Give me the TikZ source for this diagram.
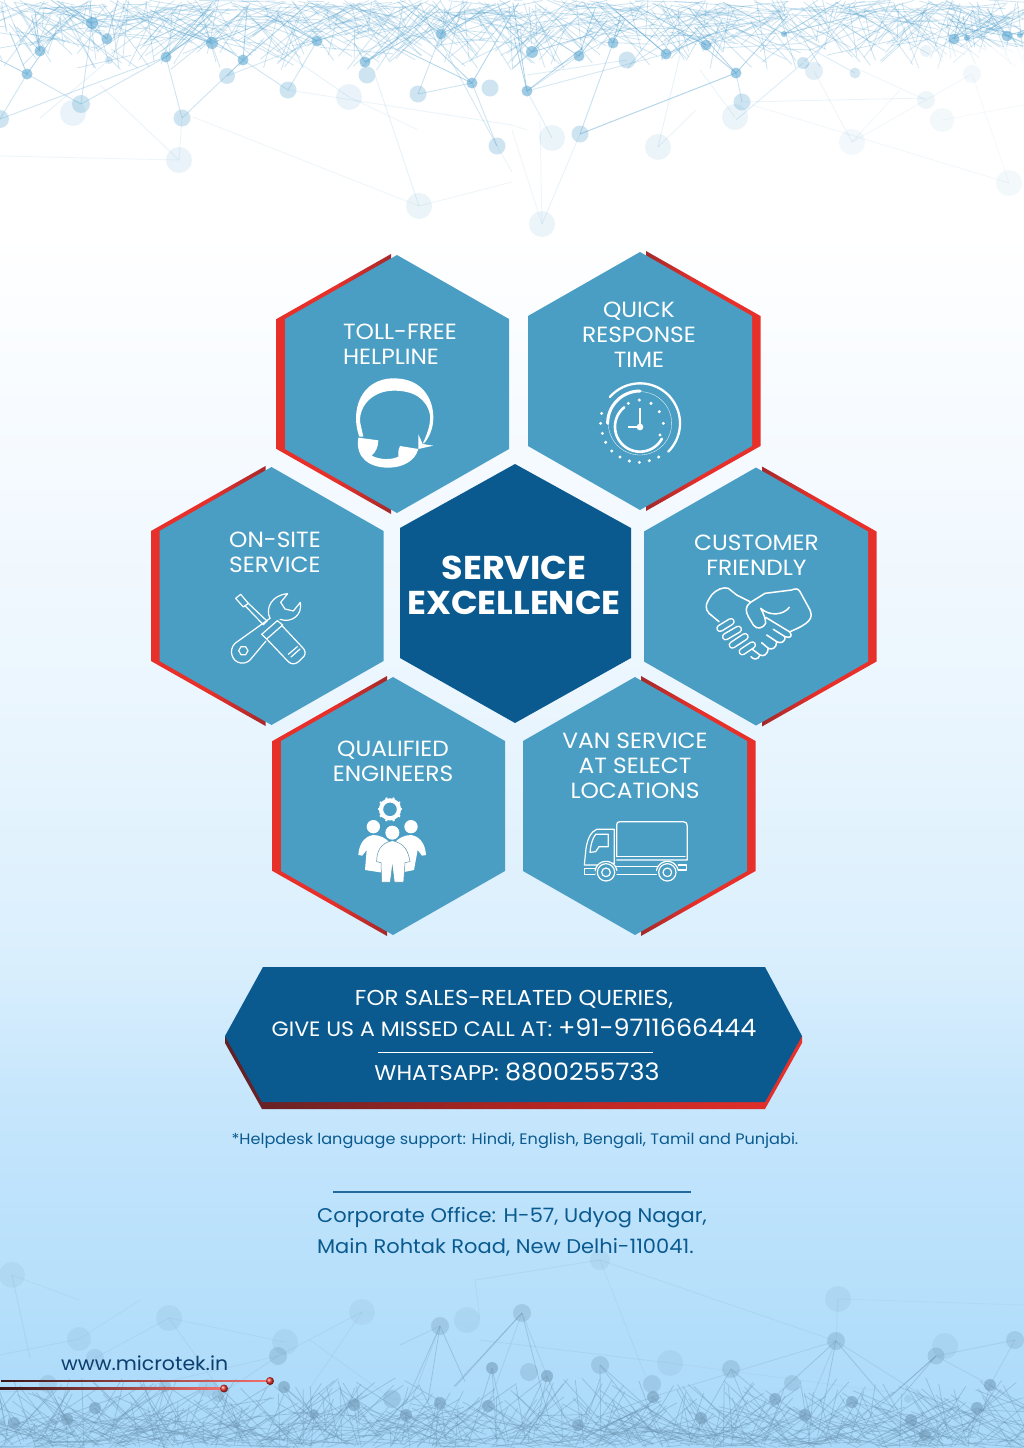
\documentclass[tikz,border=0pt]{standalone}
\usepackage{fontspec}
\setmainfont[FakeStretch=1.06]{Poppins}
\usetikzlibrary{fadings}

\definecolor{pageA}{HTML}{A9D9F9}
\definecolor{pageB}{HTML}{B5DFFB}
\definecolor{pageC}{HTML}{C6E6FC}
\definecolor{pageD}{HTML}{DAEFFD}
\definecolor{pageE}{HTML}{EBF6FE}
\definecolor{pageF}{HTML}{F7FBFF}
\definecolor{hexlight}{HTML}{4A9EC4}
\definecolor{hexdeep}{HTML}{0A5A8F}
\definecolor{hexred}{HTML}{E8302B}
\definecolor{hexmaroon}{HTML}{A52A2A}
\definecolor{bannerdark}{HTML}{5F2226}
\definecolor{nettop}{HTML}{5FA9D2}
\definecolor{netlow}{HTML}{6F98B5}
\definecolor{urlblue}{HTML}{0D3F6E}

\pgfdeclareverticalshading{pagefade}{100bp}{color(0bp)=(pageA); color(25bp)=(pageA); color(30bp)=(pageB); color(37bp)=(pageC); color(42bp)=(pageD); color(51bp)=(pageE); color(61bp)=(pageF); color(67bp)=(white); color(100bp)=(white)}
\pgfdeclarehorizontalshading{redfade}{100bp}{color(0bp)=(hexred); color(50bp)=(hexred); color(75bp)=(hexmaroon); color(100bp)=(hexmaroon)}

\begin{document}
\begin{tikzpicture}[x=1pt, y=-1pt]

\tikzstyle{hexlabel} = [text=white, align=center, font=\fontsize{22}{25}\selectfont]
\tikzstyle{iconline} = [draw=white, line width=1.2pt, line join=round, line cap=round]
\tikzstyle{banner} = [text=white, font=\fontsize{20.8}{24}\selectfont]
\tikzstyle{footer} = [text=hexdeep, font=\fontsize{19.8}{31}\selectfont, align=left]

\useasboundingbox (0,0) rectangle (1024,1448);
\shade [shading=pagefade] (0,0) rectangle (1024,1448);

% network at the top
\begin{scope}
\clip (0,0) rectangle (1024,1448);
\pgfmathsetseed{11}
\foreach \i in {1,...,720} {
  \pgfmathsetmacro\xa{rnd*1060-20}
  \pgfmathsetmacro\ya{rnd*rnd*60}
  \pgfmathsetmacro\xb{\xa+rand*80}
  \pgfmathsetmacro\yb{rnd*70}
  \draw [nettop, line width=.8pt, draw opacity=.3] (\xa,\ya) -- (\xb,\yb);
}
\foreach \x/\y/\r in {92/23/6,107/39/5.5,40/51/5.5,27/74/5.5,166/57/5.5,212/43/6,243/60/5.5,317/41/5.5,365/62/5.5,441/34/5.5,472/83/5.5,532/52/6,579/56/5.5,613/43/5.5,666/54/5.5,706/45/5.5,527/91/5.5,736/73/5.5,784/34/3,954/39/5.5,967/38/3,1007/36/5.5,1020/35/3} {
  \foreach \k in {1,2,3} {
    \pgfmathsetmacro\xb{\x+rand*75}
    \pgfmathsetmacro\yb{rnd*\y*.7}
    \draw [nettop, line width=.8pt, draw opacity=.5] (\x,\y) -- (\xb,\yb);
  }
}
\fill [white, opacity=.85, path fading=west] (880,47) rectangle (1024,200);
\foreach \xa/\ya/\xb/\yb/\op in {179/160/0/156/.1,179/160/182/118/.12,182/118/243/60/.3,182/118/166/57/.3,193/117/419/206/.1,419/206/375/75/.15,419/206/512/182/.1,179/160/100/85/.12,81/104/27/74/.3,81/104/166/57/.3,0/119/166/57/.3,0/119/27/74/.3,288/90/512/125/.12,497/146/440/40/.25,497/146/472/83/.3,497/146/512/172/.12,542/224/512/130/.1,542/224/580/134/.14,542/224/540/120/.1,580/134/736/73/.3,580/134/613/43/.35,552/138/527/91/.2,658/147/696/110/.12,658/147/680/55/.14,742/102/926/98/.12,742/102/736/73/.3,735/117/700/70/.12,852/142/814/71/.1,852/142/926/100/.08,852/142/900/90/.08,752/105/1009/183/.08,1009/183/972/74/.06,926/100/860/70/.1,926/100/970/75/.08,942/120/1024/105/.06,288/90/243/60/.3,288/90/317/41/.3,418/94/441/34/.3,418/94/472/83/.3,349/97/288/55/.15,349/97/418/130/.1,527/91/666/54/.25,527/91/579/56/.25,736/73/580/134/.25,527/130/512/125/.1,109/60/40/118/.15,81/104/92/23/.3,227/76/317/41/.25,227/76/243/60/.3,855/73/784/34/.2,627/60/527/75/.2,803/63/736/120/.2} {
  \draw [nettop, line width=.9pt, draw opacity=\op] (\xa,\ya) -- (\xb,\yb);
}
\foreach \x/\y/\r/\op in {92/23/6/.6,107/39/5.5/.6,40/51/5.5/.6,27/74/5.5/.6,166/57/5.5/.6,212/43/6/.6,243/60/5.5/.6,317/41/5.5/.6,365/62/5.5/.6,441/34/5.5/.6,472/83/5.5/.6,532/52/6/.6,579/56/5.5/.6,613/43/5.5/.6,666/54/5.5/.6,706/45/5.5/.6,527/91/5.5/.6,736/73/5.5/.6,784/34/3/.6,954/39/5.5/.6,967/38/3/.6,1007/36/5.5/.6,1020/35/3/.6,81/104/9/.3,182/118/8.5/.3,227/76/8/.3,288/90/8.5/.3,367/75/8.5/.3,418/94/8.5/.3,490/88/8.5/.3,497/146/8.5/.3,0/119/9/.3,109/60/4/.25,627/60/8.5/.3,580/134/8.5/.3,742/102/8.5/.3,803/63/6/.3,855/73/5.5/.25,73/113/13/.13,349/97/13/.13,179/160/13/.13,419/206/13/.12,552/138/13/.12,658/147/13/.12,735/117/13/.12,814/71/9/.18,852/142/13/.08,926/100/9/.1,942/120/12/.07,972/74/9/.08,1009/183/13/.07,542/224/13/.12,926/51/6/.12} {
  \fill [nettop, opacity=\op] (\x,\y) circle [radius=\r];
}

% network at the bottom
\foreach \i in {1,...,720} {
  \pgfmathsetmacro\xa{rnd*1060-20}
  \pgfmathsetmacro\ya{1448-rnd*rnd*45}
  \pgfmathsetmacro\xb{\xa+rand*80}
  \pgfmathsetmacro\yb{1448-rnd*70}
  \draw [netlow, line width=.8pt, draw opacity=.4] (\xa,\ya) -- (\xb,\yb);
}
\foreach \x/\y in {284/1387,95/1408,67/1419,14/1423,354/1405,314/1414,492/1368,547/1376,653/1397,775/1399,805/1415,852/1402,911/1420,990/1385,977/1408,925/1435,440/1403,406/1415,488/1406,578/1425,701/1418,165/1386,218/1396,936/1356,836/1341,600/1365,731/1369,440/1326,522/1313} {
  \foreach \k in {1,2,3} {
    \pgfmathsetmacro\xb{\x+rand*70}
    \pgfmathsetmacro\yb{1448-rnd*(1448-\y)*.6}
    \draw [netlow, line width=.8pt, draw opacity=.38] (\x,\y) -- (\xb,\yb);
  }
}
\foreach \xa/\ya/\xb/\yb/\op in {12/1275/30/1358/.14,12/1275/79/1300/.1,169/1318/95/1358/.12,169/1318/220/1390/.14,169/1318/285/1342/.1,79/1339/0/1355/.12,79/1339/140/1300/.1,362/1312/278/1356/.12,362/1312/310/1388/.12,278/1356/130/1390/.12,278/1356/218/1396/.16,440/1326/400/1345/.2,440/1326/406/1415/.2,522/1313/488/1406/.2,522/1313/547/1376/.2,600/1260/645/1375/.1,600/1260/836/1341/.12,838/1299/1024/1305/.08,838/1299/836/1341/.12,836/1341/945/1410/.2,836/1341/805/1415/.22,836/1341/652/1397/.2,936/1356/1015/1340/.2,936/1356/990/1385/.2,1015/1340/990/1385/.2,475/1280/480/1320/.1,475/1280/600/1260/.12,480/1340/670/1363/.12,670/1363/1024/1410/.08,392/1399/310/1340/.1,392/1399/450/1400/.1,0/1392/165/1386/.12} {
  \draw [netlow, line width=.9pt, draw opacity=\op] (\xa,\ya) -- (\xb,\yb);
}
\foreach \x/\y/\r/\op in {12/1275/13/.1,169/1318/13/.12,79/1339/12/.12,285/1342/13/.12,278/1356/9/.3,362/1312/13/.1,95/1358/9/.18,48/1384/9/.22,165/1386/6/.3,207/1388/9/.18,218/1396/6/.3,284/1387/6/.55,95/1408/6/.55,67/1419/6/.55,14/1423/6/.55,54/1422/3/.4,354/1405/6/.55,314/1414/5/.55,392/1399/9/.3,237/1425/3/.4,2/1423/3/.4,440/1326/9/.3,467/1320/13/.12,522/1313/9/.3,600/1260/10/.12,492/1368/6/.55,529/1372/9/.25,547/1376/6/.55,600/1365/9/.3,670/1363/13/.12,652/1384/9/.25,653/1397/6/.55,731/1369/9/.3,792/1383/8/.25,836/1341/9/.3,838/1299/13/.12,945/1346/13/.12,936/1356/8.5/.3,1015/1340/9/.25,775/1399/6/.55,805/1415/6/.55,852/1402/6/.55,908/1399/4/.2,911/1420/6/.55,990/1385/6/.55,977/1408/6/.55,925/1435/6/.45,440/1403/6/.55,406/1415/6/.55,488/1406/6/.55,578/1425/6/.55,701/1418/6/.55} {
  \fill [netlow, opacity=\op] (\x,\y) circle [radius=\r];
}
\end{scope}

% hexagons
\foreach \cx/\cy/\side in {397/384/-1,640/381/1,271.5/596/-1,756/596.5/1,393/806/-1,635/806/1} {
  \pgfmathsetmacro\redangle{90+90*\side}
  \shade [shading=redfade, shading angle=\redangle] ({\cx+6*\side},{\cy-130}) -- ({\cx+120.5*\side},{\cy-65}) -- ({\cx+120.5*\side},{\cy+65}) -- ({\cx+6*\side},{\cy+130}) -- cycle;
  \fill [hexlight] (\cx,{\cy-129}) -- ({\cx+112},{\cy-65}) -- ({\cx+112},{\cy+65}) -- (\cx,{\cy+129}) -- ({\cx-112},{\cy+65}) -- ({\cx-112},{\cy-65}) -- cycle;
}
\fill [hexdeep] (515,464) -- (631,528) -- (631,658) -- (515,723) -- (400,658) -- (400,528) -- cycle;

\node [text=white, align=center, font=\fontsize{33}{35}\selectfont\bfseries] (excellence) at (514,585) {SERVICE\\EXCELLENCE};

\node [hexlabel, align=left] (helpline) at (400,344) {TOLL-FREE\\HELPLINE};
\node [hexlabel] (response) at (639,335) {QUICK\\RESPONSE\\TIME};
\node [hexlabel, align=left] (onsite) at (275,552) {ON-SITE\\SERVICE};
\node [hexlabel] (friendly) at (756.5,555) {CUSTOMER\\FRIENDLY};
\node [hexlabel] (engineers) at (393,761) {QUALIFIED\\ENGINEERS};
\node [hexlabel] (vanservice) at (635,766) {VAN SERVICE\\AT SELECT\\LOCATIONS};

% headset
\begin{scope}[shift={(270,245)}, scale=1/3]
\fill [white] (268,575) .. controls (240,500) and (270,400) .. (372,400) .. controls (455,400) and (490,460) .. (490,518) .. controls (490,550) and (478,575) .. (465,592) -- (458,596) .. controls (475,560) and (482,535) .. (480,510) .. controls (470,460) and (430,437) .. (372,437) .. controls (310,437) and (268,480) .. (270,530) -- (280,575) -- cycle;
\fill [white] (265,578) -- (325,586) .. controls (325,605) and (318,620) .. (305,632) .. controls (330,645) and (365,645) .. (385,635) .. controls (383,625) and (385,615) .. (390,603) -- (445,612) .. controls (435,650) and (395,668) .. (355,668) .. controls (300,668) and (255,640) .. (265,578) -- cycle;
\fill [white] (445,568) -- (458,597) -- (490,602) -- (445,612) -- cycle;

% clock
\draw [white, line width=2.3pt, line cap=round] plot [domain=221:405, samples=50] ({1110+120*cos(\x)},{535+120*sin(\x)});
\draw [white, line width=3pt, line cap=round] plot [domain=180:270, samples=30] ({1110+97*cos(\x)},{535+97*sin(\x)});
\draw [white, line width=.3pt] (1110,535) circle [radius=95];
\draw [white, line width=2.6pt, line cap=round] plot [domain=29:231, samples=50] ({1110+75*cos(\x)},{545+75*sin(\x)});
\draw [white, line width=1.6pt] (1110,488) -- (1110,546) -- (1073,546);
\fill [white] (1110,546) circle [radius=10];
\foreach \dx/\dy in {995/505,992/535,997/565,1007/592,1025/618,1050/636,1078/648,1108/652,1138/647,1166/636,1075/475,1108/465,1143/475,1168/500,1180/535,1170/570} {
  \fill [white] (\dx,\dy) circle [radius=5];
}
\end{scope}

% tools
\begin{scope}[shift={(220,585)}, scale=1/3]
\draw [iconline] (47,40) -- (62,28) -- (85,55) -- (70,66) -- cycle;
\draw [iconline] (75,62) -- (130,119) -- (141,108) -- (85,55);
\draw [iconline] (150,100) .. controls (135,70) and (155,30) .. (203,26) -- (182,52) -- (195,72) -- (220,78) -- (241,52) .. controls (248,90) and (215,115) .. (180,103);
\draw [iconline] (150,100) -- (45,175) .. controls (25,195) and (35,230) .. (62,234) .. controls (75,236) and (85,230) .. (90,225) -- (138,168);
\draw [iconline] (125,148) -- (172,107) -- (188,120) -- (140,162) -- cycle;
\draw [iconline] (140,162) -- (205,230) .. controls (215,240) and (228,238) .. (238,228) -- (252,214) .. controls (258,205) and (255,195) .. (248,188) -- (186,122);
\draw [iconline] (205,208) -- (232,185);
\draw [iconline] (213,216) -- (240,192);
\draw [iconline] (84,197) -- (77,209) -- (63,209) -- (56,197) -- (63,185) -- (77,185) -- cycle;
\end{scope}

% handshake
\begin{scope}[shift={(695,580)}, scale=1/3]
\draw [iconline, line width=1.5pt] (72,125) -- (42,100) .. controls (28,85) and (32,70) .. (50,45) .. controls (65,28) and (85,20) .. (100,25) -- (125,45) -- (165,65);
\foreach \xa/\ya/\xb/\yb in {75/145/108/125,92/170/130/148,112/195/150/170,142/215/172/195} {
  \draw [white, line width=7.6pt, line cap=round] (\xa,\ya) -- (\xb,\yb);
  \draw [hexlight, line width=4.6pt, line cap=round] (\xa,\ya) -- (\xb,\yb);
}
\draw [iconline, line width=1.5pt] (165,68) -- (210,40) -- (290,30) .. controls (300,25) and (310,25) .. (315,35) -- (345,90) .. controls (355,115) and (345,130) .. (285,155);
\draw [iconline, line width=1.5pt] (165,68) .. controls (150,80) and (152,95) .. (160,110) -- (175,135) .. controls (185,150) and (205,145) .. (212,130) .. controls (212,115) and (205,100) .. (197,85) .. controls (225,110) and (265,105) .. (283,82);
\draw [iconline, line width=1.5pt] (212,112) -- (283,155) .. controls (295,170) and (285,175) .. (270,170) -- (235,148);
\draw [iconline, line width=1.5pt] (270,170) .. controls (270,190) and (255,190) .. (245,185) -- (215,165);
\draw [iconline, line width=1.5pt] (245,185) .. controls (245,205) and (230,210) .. (220,205) -- (200,188);
\draw [iconline, line width=1.5pt] (220,205) .. controls (218,225) and (205,230) .. (195,225) -- (172,208);
\draw [iconline, line width=1.5pt] (195,225) .. controls (190,240) and (175,240) .. (168,230);
\end{scope}

% engineers
\begin{scope}[shift={(345,790)}, scale=1/3]
\draw [white, line width=4.2pt] (135,58) circle [radius=27];
\foreach \a in {0,36,...,324} {
  \draw [white, line width=2pt] ({135+30*cos(\a)},{58+30*sin(\a)}) -- ({135+37*cos(\a)},{58+37*sin(\a)});
}
\fill [white] (85,110) circle [radius=20];
\fill [white] (198,110) circle [radius=20];
\fill [white] (40,195) .. controls (42,165) and (55,140) .. (85,135) .. controls (105,135) and (125,145) .. (135,160) -- (125,250) -- (60,240) -- (65,180) -- (52,197) -- cycle;
\fill [white] (243,195) .. controls (241,165) and (228,140) .. (198,135) .. controls (178,135) and (158,145) .. (148,160) -- (158,250) -- (207,240) -- (218,180) -- (231,197) -- cycle;
\draw [draw=hexlight!70!gray, fill=white, line width=.5pt] (95,215) .. controls (95,185) and (105,160) .. (142,152) .. controls (180,160) and (190,185) .. (195,215) -- (180,218) -- (176,276) -- (148,276) -- (142,228) -- (136,276) -- (110,276) -- (108,218) -- cycle;
\fill [white] (142,128) circle [radius=21];
\end{scope}

% truck
\begin{scope}[shift={(575,815)}, scale=1/3]
\draw [iconline] (125,125) -- (125,30) .. controls (125,23) and (128,20) .. (135,20) -- (325,20) .. controls (333,20) and (337,25) .. (337,33) -- (337,135) -- (125,135);
\draw [iconline] (125,125) -- (330,125);
\draw [iconline] (28,150) -- (33,100) .. controls (38,70) and (48,50) .. (65,43) -- (118,43) -- (118,145) -- (72,150) -- cycle;
\draw [iconline] (45,112) .. controls (47,90) and (52,70) .. (62,58) -- (100,58) -- (100,95) -- (72,95) -- (62,110) -- cycle;
\draw [iconline] (28,160) -- (62,160) -- (62,178) -- (28,178) -- cycle;
\draw [iconline] (122,155) -- (248,155);
\draw [iconline] (122,178) -- (248,178);
\draw [iconline] (310,150) -- (335,150) -- (335,165) -- (310,165);
\foreach \wx in {93,277} {
  \draw [hexlight, fill=hexlight] (\wx,172) circle [radius=32];
  \draw [iconline] (\wx,172) circle [radius=26];
  \draw [iconline] (\wx,172) circle [radius=13];
  \draw [iconline] plot [domain=190:350, samples=20] ({\wx+33*cos(\x)},{172+33*sin(\x)});
}
\end{scope}

% banner
\shade [left color=bannerdark, right color=hexred, middle color=hexred!75!black] (225,1043) -- (262,1109) -- (765,1109) -- (802,1043) -- (802,1036) -- (225,1036) -- cycle;
\fill [hexdeep] (263,967) -- (765,967) -- (802,1036) -- (765,1102) -- (262,1102) -- (225,1036) -- cycle;

\node [banner, font=\fontsize{21.6}{24}\selectfont] (salesline) at (514,999.5) {FOR SALES-RELATED QUERIES,};
\node [banner, anchor=base] (missedcall) at (514,1036) {GIVE US A MISSED CALL AT: {\fontsize{24}{25}\selectfont +91-9711666444}};
\coordinate (ruleleft) at (378,1052);
\coordinate (ruleright) at (653,1052);
\draw [white, line width=.5pt] (ruleleft) -- (ruleright);
\node [banner, anchor=base, font=\fontsize{21.3}{24}\selectfont] (whatsapp) at (517,1080) {WHATSAPP: {\fontsize{24}{25}\selectfont 8800255733}};

\node [text=hexdeep, font=\fontsize{15.2}{18}\selectfont] (helpdesk) at (515,1141) {*Helpdesk language support: Hindi, English, Bengali, Tamil and Punjabi.};

\coordinate (officeleft) at (333,1192);
\coordinate (officeright) at (691,1192);
\draw [hexdeep!90!white, line width=1.4pt] (officeleft) -- (officeright);
\node [footer] (office) at (512,1232) {Corporate Office: H-57, Udyog Nagar,\\Main Rohtak Road, New Delhi-110041.};

\node [text=urlblue, anchor=west, inner sep=0pt, font=\fontsize{19.3}{23}\selectfont] (website) at (61,1363) {www.microtek.in};

\node [circle, inner sep=0pt, minimum size=8pt, ball color=hexred] (upperdot) at (270,1381) {};
\node [circle, inner sep=0pt, minimum size=8pt, ball color=hexred] (lowerdot) at (224,1388.5) {};
\shade [left color=bannerdark!60!black, middle color=hexred!70!black, right color=hexred!70!white] (1,1380.4) rectangle (upperdot.west |- 0,1381.6);
\shade [left color=bannerdark!60!black, middle color=hexred!70!black, right color=hexred!70!white] (0,1387.9) rectangle (lowerdot.west |- 0,1389.1);

\end{tikzpicture}
\end{document}
